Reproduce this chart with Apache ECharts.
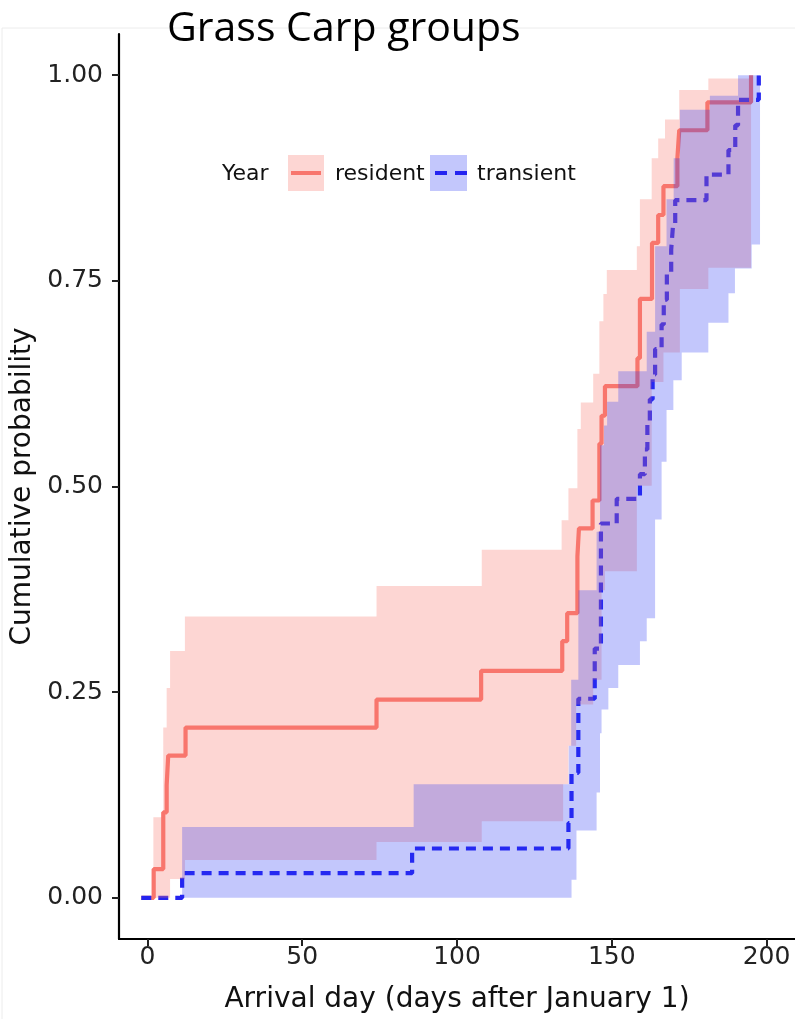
<!DOCTYPE html>
<html>
<head>
<meta charset="utf-8">
<script src="https://cdn.jsdelivr.net/npm/echarts@6/dist/echarts.min.js"></script>
<style>
  html, body { margin: 0; padding: 0; background: #fff; }
  #chart-container { width: 795px; height: 1019px; }
</style>
</head>
<body>
<div id="chart-container"></div>
<script>
var dom = document.getElementById("chart-container");
var myChart = echarts.init(dom, null, { renderer: "canvas" });

// tick labels
const xTicks = [0, 50, 100, 150, 200];
const yTicks = [0, 0.25, 0.5, 0.75, 1];

// cumulative arrival curves: [day, probability from that day on]
const residentSteps = [
  [-2, 0], [2, 0.035], [5.1, 0.104], [6.2, 0.137], [6.7, 0.173], [12.3, 0.207],
  [74, 0.241], [107.8, 0.276], [134, 0.312], [135.6, 0.346], [138.9, 0.415],
  [139.4, 0.449], [143.8, 0.483], [146, 0.552], [146.7, 0.586], [147.8, 0.622],
  [158.3, 0.656], [159.1, 0.728], [163, 0.796], [165, 0.83], [166.7, 0.865],
  [171.2, 0.899], [171.8, 0.933], [180.9, 0.967], [195, 1.0]
];
const transientSteps = [
  [-2, 0], [11.2, 0.03], [85.5, 0.06], [136, 0.091], [137, 0.152], [139.2, 0.242],
  [144.5, 0.303], [146.5, 0.455], [151.6, 0.485], [159.1, 0.515], [160.7, 0.545],
  [161.5, 0.576], [162.3, 0.606], [163.2, 0.636], [164, 0.667], [166.1, 0.697],
  [166.8, 0.727], [167.8, 0.758], [169.2, 0.788], [169.8, 0.818], [170.5, 0.848],
  [180.6, 0.879], [187.7, 0.909], [189.9, 0.939], [190.8, 0.97], [197.5, 1.0]
];

// confidence bands: [day, bound from that day on]
const residentLower = [
  [1.9, 0], [7.3, 0.023], [12.1, 0.046], [74, 0.068], [108, 0.093], [134.3, 0.138],
  [136, 0.185], [138.5, 0.235], [144, 0.265], [146.7, 0.374], [147.8, 0.397],
  [158.1, 0.501], [162.9, 0.627], [166.7, 0.663], [172, 0.74], [181.2, 0.766]
];
const residentUpper = [
  [1.9, 0.098], [5.1, 0.207], [6.2, 0.255], [7.3, 0.3], [12.1, 0.342], [74, 0.379],
  [108, 0.423], [133.8, 0.459], [136, 0.498], [138.9, 0.57], [140, 0.602],
  [144, 0.637], [146, 0.701], [147.3, 0.734], [148.4, 0.763], [158.1, 0.792],
  [159.1, 0.849], [162.9, 0.899], [165, 0.923], [167.2, 0.946], [171.8, 0.982],
  [181.2, 0.996]
];
const residentEnd = 195;
const transientLower = [
  [11.2, 0], [137, 0.022], [138.6, 0.082], [145.1, 0.128], [146.2, 0.2], [146.7, 0.229],
  [148.9, 0.255], [152.1, 0.283], [159.1, 0.312], [161.3, 0.34], [164, 0.46],
  [166.1, 0.53], [167.7, 0.593], [169.9, 0.629], [172.6, 0.663], [181.2, 0.699],
  [187.7, 0.735], [189.8, 0.765], [195.2, 0.794]
];
const transientUpper = [
  [11.2, 0.086], [86, 0.138], [136.1, 0.185], [136.9, 0.265], [139.2, 0.374],
  [145.1, 0.445], [146.2, 0.55], [147.5, 0.574], [148.5, 0.603], [152.1, 0.64],
  [161.3, 0.688], [164, 0.792], [167.7, 0.849], [170, 0.899], [172, 0.958],
  [181.7, 0.975], [190.8, 1.0]
];
const transientEnd = 197.9;

const FONT = "DejaVu Sans";
const RED = "#F8766D";
const BLUE = "#2424F0";
const RED_FILL = "rgba(248,118,109,0.3)";
const BLUE_FILL = "rgba(40,55,245,0.28)";

function stepAt(arr, x) {
  let v = arr[0][1];
  for (const d of arr) if (d[0] <= x) v = d[1];
  return v;
}

// one polygon per band, built from the two step bounds
function bandSeries(name, lower, upper, endDay, color) {
  return {
    type: "custom",
    name,
    silent: true,
    z: 3,
    data: [[lower[0][0], lower[0][1]]],
    renderItem: function (params, api) {
      const xs = Array.from(new Set(lower.map((d) => d[0]).concat(upper.map((d) => d[0]))))
        .sort((a, b) => a - b);
      xs.push(endDay);
      const top = [], bot = [];
      for (let i = 0; i < xs.length - 1; i++) {
        const hi = stepAt(upper, xs[i]);
        const lo = stepAt(lower, xs[i]);
        top.push(api.coord([xs[i], hi]), api.coord([xs[i + 1], hi]));
        bot.push(api.coord([xs[i], lo]), api.coord([xs[i + 1], lo]));
      }
      return {
        type: "polygon",
        shape: { points: top.concat(bot.reverse()) },
        style: { fill: color },
      };
    },
  };
}

var option = {
  animation: false,
  grid: { left: 119, right: 0, top: 34, bottom: 76 },
  xAxis: {
    type: "value",
    min: -9.2,
    max: 209.2,
    name: "Arrival day (days after January 1)",
    nameLocation: "middle",
    nameGap: 47,
    nameTextStyle: { fontFamily: FONT, fontSize: 28, color: "#111" },
    axisLine: { onZero: false, lineStyle: { color: "#000", width: 2.2 } },
    axisTick: { customValues: xTicks, length: 7, lineStyle: { color: "#222", width: 2 } },
    axisLabel: { customValues: xTicks, fontFamily: FONT, fontSize: 25, color: "#222", margin: 6 },
    splitLine: { show: false },
  },
  yAxis: {
    type: "value",
    min: -0.05,
    max: 1.05,
    name: "Cumulative probability",
    nameLocation: "middle",
    nameRotate: 90,
    nameGap: 77,
    nameTextStyle: { fontFamily: FONT, fontSize: 28, color: "#111" },
    axisLine: { show: true, onZero: false, lineStyle: { color: "#000", width: 2.2 } },
    axisTick: { customValues: yTicks, length: 7, lineStyle: { color: "#222", width: 2 } },
    axisLabel: {
      customValues: yTicks,
      fontFamily: FONT,
      fontSize: 25,
      color: "#222",
      margin: 16,
      formatter: (v) => v.toFixed(2),
    },
    splitLine: { show: false },
  },
  series: [
    {
      type: "line",
      name: "resident",
      step: "end",
      data: residentSteps,
      symbol: "none",
      silent: true,
      z: 2,
      lineStyle: { color: RED, width: 4.2 },
    },
    {
      type: "line",
      name: "transient",
      step: "end",
      data: transientSteps,
      symbol: "none",
      silent: true,
      z: 2,
      lineStyle: { color: BLUE, width: 4.2, type: [10, 7] },
    },
    bandSeries("resident band", residentLower, residentUpper, residentEnd, RED_FILL),
    bandSeries("transient band", transientLower, transientUpper, transientEnd, BLUE_FILL),
  ],
  graphic: [
    {
      type: "rect",
      shape: { x: 2, y: 28, width: 800, height: 1000 },
      style: { fill: "none", stroke: "#ececec", lineWidth: 1 },
      silent: true,
    },
    {
      type: "text",
      x: 167,
      y: 29,
      style: { text: "Grass Carp groups", font: "41px 'Open Sans'", fill: "#000", verticalAlign: "middle" },
    },
    {
      type: "text",
      x: 222,
      y: 174,
      style: { text: "Year", font: "22px 'DejaVu Sans'", fill: "#111", verticalAlign: "middle" },
    },
    { type: "rect", shape: { x: 288, y: 155, width: 36, height: 36 }, style: { fill: RED_FILL } },
    {
      type: "line",
      shape: { x1: 291, y1: 173, x2: 321, y2: 173 },
      style: { stroke: RED, lineWidth: 4 },
    },
    {
      type: "text",
      x: 335,
      y: 174,
      style: { text: "resident", font: "22px 'DejaVu Sans'", fill: "#111", verticalAlign: "middle" },
    },
    { type: "rect", shape: { x: 430, y: 155, width: 37, height: 36 }, style: { fill: BLUE_FILL } },
    {
      type: "line",
      shape: { x1: 435, y1: 173, x2: 467, y2: 173 },
      style: { stroke: BLUE, lineWidth: 4, lineDash: [12, 8] },
    },
    {
      type: "text",
      x: 477,
      y: 174,
      style: { text: "transient", font: "22px 'DejaVu Sans'", fill: "#111", verticalAlign: "middle" },
    },
  ],
};

myChart.setOption(option);
window.addEventListener("resize", myChart.resize);
</script>
</body>
</html>
